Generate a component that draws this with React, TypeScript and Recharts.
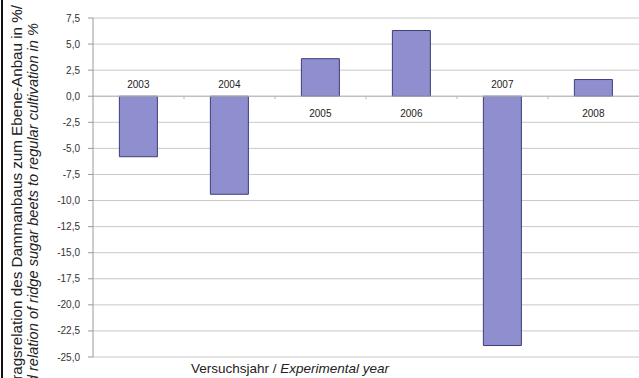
import { BarChart, Bar, YAxis, XAxis, CartesianGrid, ReferenceLine, LabelList } from "recharts"

const years = ["2003", "2004", "2005", "2006", "2007", "2008"]
const relation = [-5.8, -9.4, 3.6, 6.3, -23.9, 1.6]
const yTicks = [7.5, 5, 2.5, 0, -2.5, -5, -7.5, -10, -12.5, -15, -17.5, -20, -22.5, -25]

const data = years.map((year, i) => ({ year, value: relation[i] }))

const fmt = (v: number) => v.toFixed(1).replace(".", ",")

const YearLabel = (props: any) => {
  const { x, y, width, height, value, index } = props
  const zeroY = value >= 0 ? Math.max(y, y + height) : Math.min(y, y + height)
  const ty = value >= 0 ? zeroY + 21 : zeroY - 8
  return (
    <text x={x + width / 2} y={ty} textAnchor="middle" fontSize={10} fill="#222" fontFamily="'Liberation Sans', Arial, sans-serif">
      {years[index]}
    </text>
  )
}

const ZeroLine = (props: any) => {
  const { x1, y1, x2, y2 } = props
  const n = years.length
  const ticks = Array.from({ length: n - 1 }, (_, i) => x1 + ((x2 - x1) * (i + 1)) / n)
  return (
    <g>
      <line x1={x1} y1={y1} x2={x2} y2={y2} stroke="#b8b8b8" strokeWidth={1} />
      {ticks.map((tx, i) => (
        <line key={i} x1={tx} y1={y1} x2={tx} y2={y1 + 3} stroke="#b8b8b8" strokeWidth={1} />
      ))}
    </g>
  )
}

export default function App() {
  return (
    <div style={{ position: "absolute", left: 0, top: 0, width: 639, height: 378, overflow: "hidden", background: "#fff" }}>
      <div style={{ position: "absolute", left: 1, top: 0, width: 2, height: 378, background: "#111" }} />
      <svg width={60} height={378} style={{ position: "absolute", left: 0, top: 0 }}>
        <text transform="translate(22,5) rotate(-90)" textAnchor="end" fontSize={15.2} fill="#222" fontFamily="'Liberation Sans', Arial, sans-serif">
          Ertragsrelation des Dammanbaus zum Ebene-Anbau in %/
        </text>
        <text transform="translate(38,23) rotate(-90)" textAnchor="end" fontSize={14.6} fontStyle="italic" fill="#222" fontFamily="'Liberation Sans', Arial, sans-serif">
          Yield relation of ridge sugar beets to regular cultivation in %
        </text>
      </svg>
      <div style={{ position: "absolute", left: 0, top: 0 }}>
        <BarChart width={639} height={378} data={data} margin={{ top: 18, right: 0, bottom: 21, left: 43 }} barCategoryGap="29%">
          <CartesianGrid vertical={false} stroke="#c8c8c8" />
          <XAxis dataKey="year" hide />
          <YAxis
            width={50}
            domain={[-25, 7.5]}
            ticks={yTicks}
            interval={0}
            tickFormatter={fmt}
            axisLine={{ stroke: "#999" }}
            tickLine={{ stroke: "#999" }}
            tickSize={5}
            tickMargin={8}
            tick={{ fontSize: 10, fill: "#333", fontFamily: "'Liberation Sans', Arial, sans-serif" }}
          />
          <ReferenceLine y={0} shape={<ZeroLine />} />
          <Bar dataKey="value" fill="#8f8fcf" stroke="#3d3d7a" strokeWidth={1} isAnimationActive={false}>
            <LabelList dataKey="value" content={<YearLabel />} />
          </Bar>
        </BarChart>
      </div>
      <div style={{ position: "absolute", left: 0, top: 361, width: 580, textAlign: "center", fontSize: 13.5, color: "#222", fontFamily: "'Liberation Sans', Arial, sans-serif" }}>
        Versuchsjahr / <i>Experimental year</i>
      </div>
    </div>
  )
}
